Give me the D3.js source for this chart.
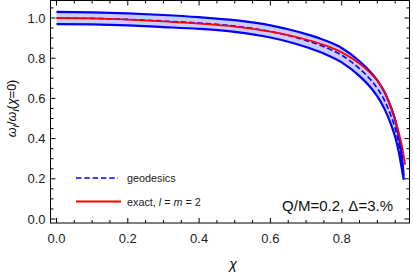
<!DOCTYPE html>
<html>
<head>
<meta charset="utf-8">
<script src="https://cdn.jsdelivr.net/npm/d3@7"></script>
<style>
  html, body { margin: 0; padding: 0; background: #fff; }
  svg { display: block; font-family: "Liberation Sans", Arial, sans-serif; }
</style>
</head>
<body>
<div id="chart"></div>
<script>
// spin values and curves
const chi      = [0, 0.1, 0.2, 0.3, 0.4, 0.5, 0.6, 0.65, 0.7, 0.75, 0.8, 0.85, 0.88, 0.9, 0.92, 0.94, 0.95, 0.96, 0.97, 0.974];
const upper    = [1.030, 1.028, 1.023, 1.015, 1.004, 0.989, 0.963, 0.944, 0.920, 0.891, 0.851, 0.785, 0.733, 0.690, 0.632, 0.548, 0.492, 0.415, 0.295, 0.215];
const lower    = [0.970, 0.968, 0.963, 0.955, 0.946, 0.931, 0.903, 0.882, 0.856, 0.823, 0.779, 0.711, 0.657, 0.610, 0.548, 0.462, 0.408, 0.335, 0.235, 0.195];
const geodesic = [1.000, 0.998, 0.993, 0.985, 0.975, 0.960, 0.933, 0.913, 0.888, 0.857, 0.815, 0.748, 0.695, 0.650, 0.590, 0.505, 0.450, 0.375, 0.265, 0.205];
const chiExact = [0, 0.1, 0.2, 0.3, 0.4, 0.5, 0.6, 0.65, 0.7, 0.75, 0.8, 0.85, 0.88, 0.9, 0.92, 0.94, 0.95, 0.96, 0.97, 0.978];
const exact    = [1.000, 0.998, 0.992, 0.983, 0.972, 0.957, 0.932, 0.915, 0.893, 0.866, 0.829, 0.773, 0.727, 0.688, 0.634, 0.545, 0.495, 0.430, 0.355, 0.270];

const xTicks = [0, 0.2, 0.4, 0.6, 0.8];
const yTicks = [0, 0.2, 0.4, 0.6, 0.8, 1.0];

const W = 413, H = 272;
const L = 50.5, R = 409.5, T = 0.5, B = 223;

const svg = d3.select('#chart').append('svg').attr('width', W).attr('height', H);

const x = d3.scaleLinear().domain([(L - 56.5) / 356.5, (R - 56.5) / 356.5]).range([L, R]);
const y = d3.scaleLinear().domain([(219 - B) / 201, (219 - T) / 201]).range([B, T]);

svg.append('defs').append('clipPath').attr('id', 'clip')
  .append('rect').attr('x', L).attr('y', T).attr('width', R - L).attr('height', B - T);

const plot = svg.append('g').attr('clip-path', 'url(#clip)');

const band = chi.map((c, i) => ({ c, hi: upper[i], lo: lower[i] }));
plot.append('path')
  .datum(band)
  .attr('fill', 'rgb(204,204,255)')
  .attr('d', d3.area().x(d => x(d.c)).y0(d => y(d.lo)).y1(d => y(d.hi)).curve(d3.curveMonotoneX));

const line = d3.line().x(d => x(d[0])).y(d => y(d[1])).curve(d3.curveMonotoneX);

[upper, lower].forEach(arr => {
  plot.append('path')
    .datum(chi.map((c, i) => [c, arr[i]]))
    .attr('fill', 'none').attr('stroke', '#0000ff').attr('stroke-width', 2.2)
    .attr('d', line);
});

plot.append('path')
  .datum(chi.map((c, i) => [c, geodesic[i]]))
  .attr('fill', 'none').attr('stroke', '#0000ff').attr('stroke-width', 1.6)
  .attr('stroke-dasharray', '5.5,2.8')
  .attr('d', line);

plot.append('path')
  .datum(chiExact.map((c, i) => [c, exact[i]]))
  .attr('fill', 'none').attr('stroke', '#ff0000').attr('stroke-width', 1.8)
  .attr('d', line);

// frame with inward ticks on all sides
const axes = svg.append('g').attr('stroke', '#000');
axes.append('rect').attr('x', L).attr('y', T).attr('width', R - L).attr('height', B - T)
  .attr('fill', 'none').attr('stroke-width', 1);

const xMinor = d3.range(0, 1.0, 0.05);
const yMinor = d3.range(0, 1.09, 0.05);

xMinor.forEach(v => {
  const major = xTicks.some(t => Math.abs(t - v) < 1e-6);
  const len = major ? 5 : 3;
  axes.append('line').attr('x1', x(v)).attr('x2', x(v)).attr('y1', B).attr('y2', B - len);
  axes.append('line').attr('x1', x(v)).attr('x2', x(v)).attr('y1', T).attr('y2', T + len);
});
yMinor.forEach(v => {
  const major = yTicks.some(t => Math.abs(t - v) < 1e-6);
  const len = major ? 5 : 3;
  axes.append('line').attr('y1', y(v)).attr('y2', y(v)).attr('x1', L).attr('x2', L + len);
  axes.append('line').attr('y1', y(v)).attr('y2', y(v)).attr('x1', R).attr('x2', R - len);
});

svg.append('g').selectAll('text').data(xTicks).join('text')
  .attr('x', d => x(d)).attr('y', 242.5)
  .attr('text-anchor', 'middle').attr('font-size', 13).attr('fill', '#222')
  .text(d => d.toFixed(1));

svg.append('g').selectAll('text').data(yTicks).join('text')
  .attr('x', 45.5).attr('y', d => y(d) + 4.5)
  .attr('text-anchor', 'end').attr('font-size', 13).attr('fill', '#222')
  .text(d => d.toFixed(1));

// axis labels
svg.append('text').attr('x', 233).attr('y', 269)
  .attr('text-anchor', 'middle').attr('font-size', 14).attr('font-style', 'italic')
  .text('χ');

const yl = svg.append('text')
  .attr('transform', `translate(16,${y(0.55)}) rotate(-90)`)
  .attr('text-anchor', 'middle').attr('font-size', 12.5);
yl.append('tspan').attr('font-style', 'italic').text('ω');
yl.append('tspan').attr('font-style', 'italic').attr('font-size', 9).attr('dy', 3).text('I');
yl.append('tspan').attr('dy', -3).text('/');
yl.append('tspan').attr('font-style', 'italic').text('ω');
yl.append('tspan').attr('font-style', 'italic').attr('font-size', 9).attr('dy', 3).text('I');
yl.append('tspan').attr('dy', -3).text('(');
yl.append('tspan').attr('font-style', 'italic').text('χ');
yl.append('tspan').text('=0)');

// legend
const lg = svg.append('g');
lg.append('line').attr('x1', 76).attr('x2', 118).attr('y1', 178).attr('y2', 178)
  .attr('stroke', '#0000ff').attr('stroke-width', 1.6).attr('stroke-dasharray', '5.5,2.8');
lg.append('text').attr('x', 127).attr('y', 182).attr('font-size', 10.8).attr('fill', '#222').text('geodesics');
lg.append('line').attr('x1', 76).attr('x2', 121).attr('y1', 201.5).attr('y2', 201.5)
  .attr('stroke', '#ff0000').attr('stroke-width', 1.8);
const ex = lg.append('text').attr('x', 127).attr('y', 205.5).attr('font-size', 10.8).attr('fill', '#222');
ex.append('tspan').text('exact, ');
ex.append('tspan').attr('font-style', 'italic').text('l');
ex.append('tspan').text(' = ');
ex.append('tspan').attr('font-style', 'italic').text('m');
ex.append('tspan').text(' = 2');

svg.append('text').attr('x', 393).attr('y', 210.5)
  .attr('text-anchor', 'end').attr('font-size', 15).attr('fill', '#111')
  .text('Q/M=0.2, Δ=3.%');
</script>
</body>
</html>
